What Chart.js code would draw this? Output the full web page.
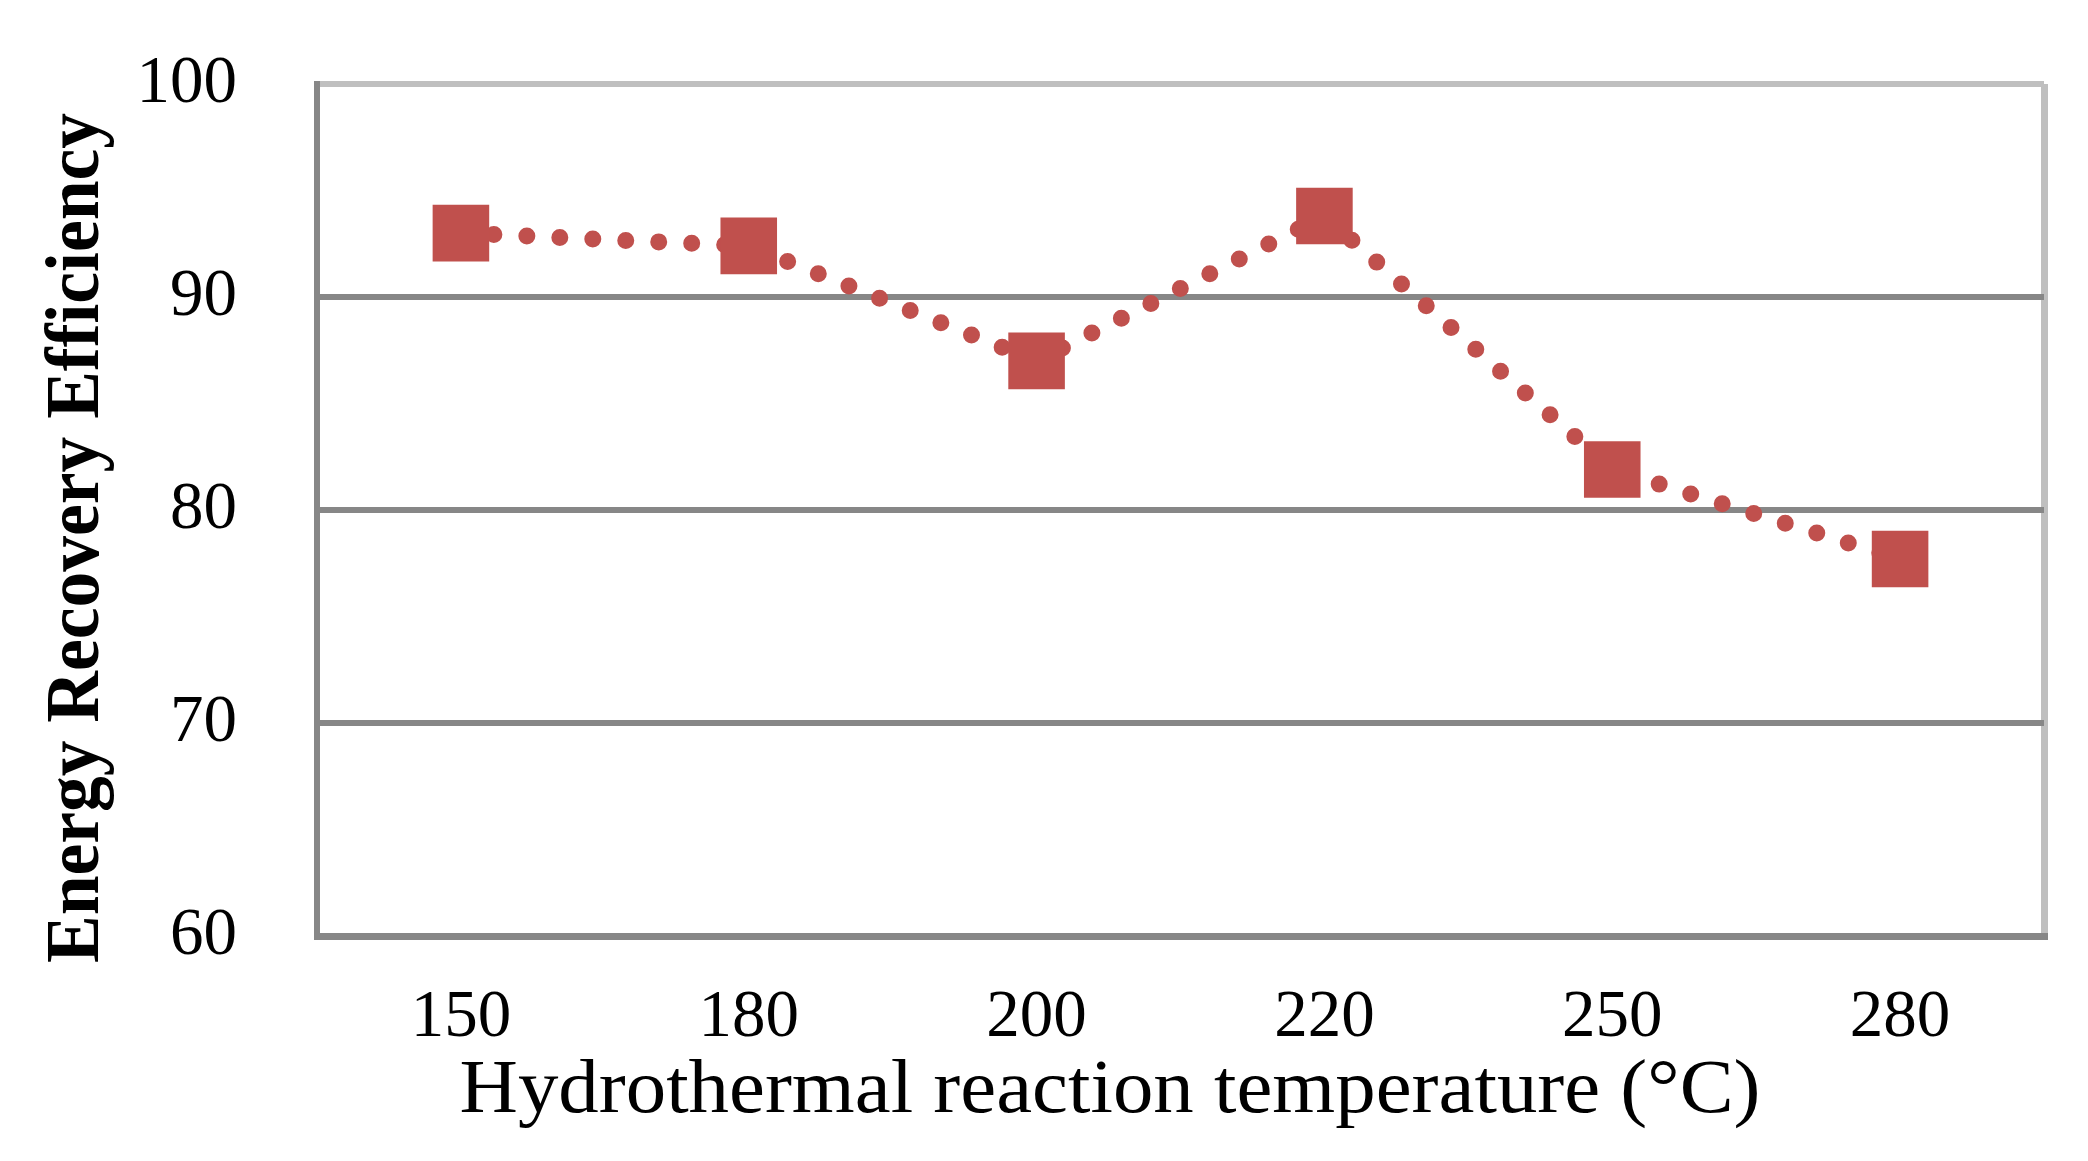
<!DOCTYPE html>
<html>
<head>
<meta charset="utf-8">
<script src="https://cdn.jsdelivr.net/npm/chart.js@4.4.0/dist/chart.umd.min.js"></script>
<style>
  html, body { margin: 0; padding: 0; background: #ffffff; }
  #wrap { width: 2088px; height: 1161px; position: relative; }
</style>
</head>
<body>
<div id="wrap"><canvas id="c"></canvas></div>
<script>
const categories = ['150', '180', '200', '220', '250', '280'];
const efficiency = [93.0, 92.4, 87.0, 93.8, 81.9, 77.7];
const yMin = 60;
const yMax = 100;
const yStep = 10;
const xTitle = 'Hydrothermal reaction temperature (°C)';
const yTitle = 'Energy Recovery Efficiency';

const SERIF = '"Liberation Serif", "Times New Roman", serif';
const RED = '#C0504D';
const DARK = '#878787';
const LIGHT = '#BFBFBF';

function fittedText(ctx, text, targetW) {
  const w = ctx.measureText(text).width;
  const s = targetW / w;
  ctx.scale(s, 1);
  ctx.fillText(text, 0, 0);
}

const titlesPlugin = {
  id: 'axisTitles',
  afterDraw(chart) {
    const ctx = chart.ctx;
    ctx.save();
    ctx.fillStyle = '#000000';
    ctx.textAlign = 'center';
    ctx.textBaseline = 'alphabetic';
    // x-axis title
    ctx.save();
    ctx.font = '77px ' + SERIF;
    ctx.translate(1110, 1112);
    fittedText(ctx, xTitle, 1301);
    ctx.restore();
    // y-axis title
    ctx.save();
    ctx.font = 'bold 77px ' + SERIF;
    ctx.translate(98, 538);
    ctx.rotate(-Math.PI / 2);
    fittedText(ctx, yTitle, 850);
    ctx.restore();
    ctx.restore();
  }
};

new Chart(document.getElementById('c'), {
  type: 'line',
  data: {
    labels: categories,
    datasets: [{
      label: 'Energy Recovery Efficiency',
      data: efficiency,
      borderColor: RED,
      backgroundColor: RED,
      borderWidth: 17,
      borderDash: [0, 33],
      borderCapStyle: 'round',
      tension: 0,
      fill: false,
      pointStyle: 'rect',
      pointRadius: 40,
      pointHoverRadius: 40,
      pointBackgroundColor: RED,
      pointBorderColor: RED,
      pointBorderWidth: 0
    }]
  },
  options: {
    responsive: true,
    maintainAspectRatio: false,
    animation: false,
    devicePixelRatio: 1,
    layout: { autoPadding: false, padding: { top: 84, right: 44, left: 0, bottom: 0 } },
    plugins: {
      legend: { display: false },
      tooltip: { enabled: false }
    },
    scales: {
      x: {
        type: 'category',
        offset: true,
        grid: {
          offset: true,
          drawTicks: false,
          color: c => (c.tick ? 'rgba(0,0,0,0)' : LIGHT),
          lineWidth: 7
        },
        border: { display: true, color: DARK, width: 7 },
        ticks: {
          color: '#000000',
          font: { family: SERIF, size: 67 },
          padding: 42,
          maxRotation: 0,
          autoSkip: false
        },
        afterFit(scale) {
          scale.height = 225;
          scale.paddingLeft = 0;
          scale.paddingRight = 0;
        }
      },
      y: {
        min: yMin,
        max: yMax,
        grid: {
          drawTicks: false,
          color: c => (c.tick && c.tick.value === yMax ? LIGHT : DARK),
          lineWidth: 6
        },
        border: { display: true, color: DARK, width: 6 },
        ticks: {
          stepSize: yStep,
          color: '#000000',
          font: { family: SERIF, size: 67 },
          padding: 80
        },
        afterFit(scale) {
          scale.width = 317;
          scale.paddingTop = 0;
          scale.paddingBottom = 0;
        }
      }
    }
  },
  plugins: [titlesPlugin]
});
</script>
</body>
</html>
